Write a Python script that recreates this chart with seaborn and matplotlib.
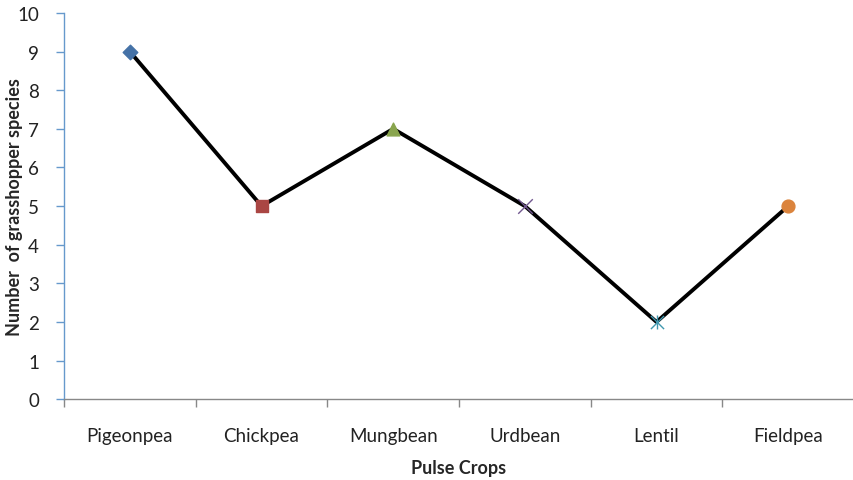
import matplotlib
matplotlib.use("Agg")
import matplotlib.pyplot as plt
import seaborn as sns
import pandas as pd
import numpy as np

crops = ["Pigeonpea", "Chickpea", "Mungbean", "Urdbean", "Lentil", "Fieldpea"]
species = [9, 5, 7, 5, 2, 5]
marker_colors = ["#4572A7", "#AA4643", "#89A54E", "#71588F", "#4198AF", "#DB843D"]
marker_shapes = ["D", "s", "^", "x", "*", "o"]

df = pd.DataFrame({"crop": crops, "pos": np.arange(len(crops)), "species": species})

sns.set_style("white")
plt.rcParams["font.family"] = ["Lato", "DejaVu Sans"]

fig = plt.figure(figsize=(8.54, 4.81), dpi=100)
ax = fig.add_axes([0.075, 0.168, 0.925, 0.803])

sns.lineplot(data=df, x="pos", y="species", color="black", linewidth=2.8, ax=ax, zorder=2)

for (_, row), c, m in zip(df.iterrows(), marker_colors, marker_shapes):
    if m == "x":
        ax.scatter(row["pos"], row["species"], marker="x", s=110, color=c, linewidths=1.0, zorder=3)
    elif m == "*":
        ax.scatter(row["pos"], row["species"], marker="x", s=90, color=c, linewidths=1.0, zorder=3)
        ax.scatter(row["pos"], row["species"], marker="|", s=110, color=c, linewidths=1.0, zorder=3)
    else:
        sizes = {"D": 55, "s": 85, "^": 85, "o": 85}
        ax.scatter(row["pos"], row["species"], marker=m, s=sizes[m], color=c, edgecolors=c, zorder=3)

ax.set_xlim(-0.5, len(crops) - 0.5)
ax.set_ylim(0, 10)
ax.set_yticks(range(0, 11))
ax.set_xticks(df["pos"])
ax.set_xticklabels(crops)
ax.set_xticks(np.arange(-0.5, len(crops)), minor=True)

ax.tick_params(axis="x", which="major", bottom=True, length=0, pad=20, labelsize=13.5, colors="#222222")
ax.tick_params(axis="x", which="minor", bottom=True, length=6, width=1, color="#888888", direction="out")
ax.tick_params(axis="y", which="major", left=True, length=6, width=1, color="#6699CC", direction="out",
               pad=12, labelsize=13.5, labelcolor="#222222")

for side in ["top", "right"]:
    ax.spines[side].set_visible(False)
ax.spines["left"].set_color("#6699CC")
ax.spines["left"].set_linewidth(1)
ax.spines["bottom"].set_color("#888888")
ax.spines["bottom"].set_linewidth(1)

ax.set_xlabel("Pulse Crops", fontsize=13, fontweight="bold", labelpad=11)
ax.set_ylabel("Number  of grasshopper species", fontsize=13, fontweight="bold")
ax.yaxis.set_label_coords(-0.052, 0.5)

fig.savefig("out.png", dpi=100)
